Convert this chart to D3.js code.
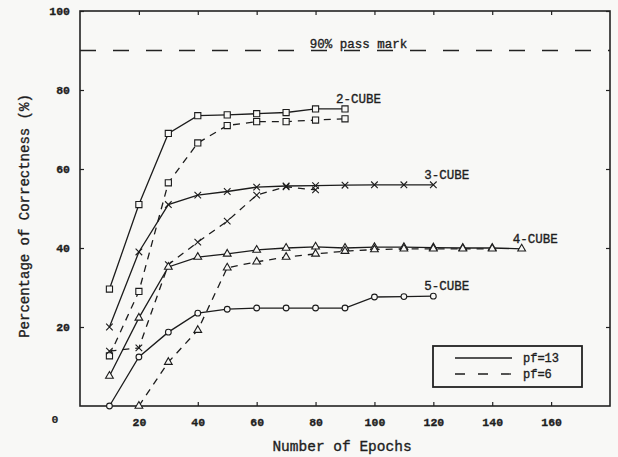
<!DOCTYPE html>
<html>
<head>
<meta charset="utf-8">
<script src="https://cdn.jsdelivr.net/npm/d3@7"></script>
<style>
  body { margin: 0; background: #f8f8f6; }
  text { font-family: "Liberation Mono", monospace; fill: #1e1e1e; stroke: #1e1e1e; stroke-width: 0.35; }
</style>
</head>
<body>
<div id="chart"></div>
<script>
// --------------------------------------
//  Data
// --------------------------------------

const epochs = [10, 20, 30, 40, 50, 60, 70, 80, 90, 100, 110, 120, 130, 140, 150];

const cube2Solid  = [29.6, 51, 69, 73.5, 73.7, 74, 74.3, 75.2, 75.2];
const cube2Dashed = [12.7, 29, 56.5, 66.6, 71, 72, 72, 72.4, 72.7];
const cube3Solid  = [20, 39, 51, 53.4, 54.3, 55.4, 55.7, 55.8, 55.9, 56, 56, 56];
const cube3Dashed = [13.9, 14.7, 35.8, 41.5, 46.8, 53.4, 55.5, 54.7];
const cube4Solid  = [7.6, 22.3, 35.2, 37.7, 38.5, 39.5, 40, 40.3, 40, 40.2, 40.2, 40.1, 40, 40, 39.8];
const cube4Dashed = [null, 0, 11.1, 19.2, 35, 36.5, 37.7, 38.5, 39.2, 39.6, 39.8, 39.8, 39.8, 39.8];
const cube5Solid  = [0, 12.4, 18.7, 23.5, 24.5, 24.8, 24.8, 24.8, 24.8, 27.6, 27.7, 27.8];

const xTicks = [20, 40, 60, 80, 100, 120, 140, 160];
const yTicks = [20, 40, 60, 80, 100];
const passMark = 90;

const series = [
  {values: cube2Solid,  symbol: d3.symbolSquare,   size: 38, dashed: false},
  {values: cube2Dashed, symbol: d3.symbolSquare,   size: 38, dashed: true},
  {values: cube3Solid,  symbol: d3.symbolTimes,    size: 30, dashed: false},
  {values: cube3Dashed, symbol: d3.symbolTimes,    size: 30, dashed: true},
  {values: cube4Solid,  symbol: d3.symbolTriangle, size: 26, dashed: false},
  {values: cube4Dashed, symbol: d3.symbolTriangle, size: 26, dashed: true},
  {values: cube5Solid,  symbol: d3.symbolCircle,   size: 26, dashed: false}
];

const curveLabels = [
  {text: "2-CUBE", epoch: 90,  value: 75.2},
  {text: "3-CUBE", epoch: 120, value: 56},
  {text: "4-CUBE", epoch: 150, value: 39.8},
  {text: "5-CUBE", epoch: 120, value: 27.8}
];

// --------------------------------------
//  Margin and canvas
// --------------------------------------

const width = 618;
const height = 457;
const margin = {top: 11, right: 8, bottom: 51, left: 80};
const innerwidth = width - margin.left - margin.right;
const innerheight = height - margin.top - margin.bottom;

const svg = d3.select("#chart")
  .append("svg")
    .attr("width", width)
    .attr("height", height);

const innerChart = svg.append("g")
    .attr("transform", `translate(${margin.left}, ${margin.top})`);

// --------------------------------------
//  Scales
// --------------------------------------

const x = d3.scaleLinear().domain([0, 180]).range([0, innerwidth]);
const y = d3.scaleLinear().domain([0, 100]).range([innerheight, 0]);

// --------------------------------------
//  Axes (ticks inward on all four sides)
// --------------------------------------

const axisStyle = g => {
  g.select(".domain").remove();
  g.selectAll(".tick line").attr("stroke", "#222").attr("stroke-width", 1.2);
  g.selectAll(".tick text").attr("font-size", 11.5).attr("font-weight", "bold").attr("fill", "#2a2a2a").attr("stroke-width", 0.1);
};

innerChart.append("g")
    .attr("transform", `translate(0, ${innerheight})`)
    .call(d3.axisBottom(x).tickValues(xTicks).tickSize(-4).tickPadding(12))
    .call(axisStyle);

innerChart.append("g")
    .call(d3.axisLeft(y).tickValues(yTicks).tickSize(-4).tickPadding(10))
    .call(axisStyle);

innerChart.append("g")
    .attr("transform", `translate(${innerwidth}, 0)`)
    .call(d3.axisRight(y).tickValues(yTicks).tickSize(-4).tickFormat(""))
    .call(axisStyle);

innerChart.append("g")
    .call(d3.axisTop(x).tickValues(xTicks).tickSize(-4).tickFormat(""))
    .call(axisStyle);

innerChart.append("rect")
    .attr("width", innerwidth)
    .attr("height", innerheight)
    .attr("fill", "none")
    .attr("stroke", "#222")
    .attr("stroke-width", 1.6);

// shared "0" in the corner
svg.append("text")
    .attr("x", 55).attr("y", 423)
    .attr("text-anchor", "middle")
    .attr("font-size", 11.5).attr("font-weight", "bold")
    .style("stroke-width", 0.1)
    .text("0");

svg.append("text")
    .attr("x", margin.left + x(90) - 3)
    .attr("y", 451)
    .attr("text-anchor", "middle")
    .attr("font-size", 14.5)
    .text("Number of Epochs");

svg.append("text")
    .attr("transform", `translate(29, 216) rotate(-90)`)
    .attr("text-anchor", "middle")
    .attr("font-size", 14)
    .text("Percentage of Correctness (%)");

// --------------------------------------
//  Pass mark
// --------------------------------------

innerChart.append("line")
    .attr("x1", 0).attr("x2", innerwidth)
    .attr("y1", y(passMark)).attr("y2", y(passMark))
    .attr("stroke", "#222")
    .attr("stroke-width", 1.4)
    .attr("stroke-dasharray", "16,17");

innerChart.append("text")
    .attr("x", x(78))
    .attr("y", y(passMark) - 3)
    .attr("font-size", 12.5)
    .text("90% pass mark");

// --------------------------------------
//  Data drawing
// --------------------------------------

const line = d3.line()
    .defined(d => d[1] != null)
    .x(d => x(d[0]))
    .y(d => y(d[1]));

series.forEach(s => {
  const pts = s.values.map((v, i) => [epochs[i], v]);

  innerChart.append("path")
      .datum(pts)
      .attr("fill", "none")
      .attr("stroke", "#1c1c1c")
      .attr("stroke-width", 1.3)
      .attr("stroke-dasharray", s.dashed ? "7,6" : null)
      .attr("d", line);

  innerChart.append("g")
    .selectAll("path")
    .data(pts.filter(d => d[1] != null))
    .join("path")
      .attr("transform", d => `translate(${x(d[0])}, ${y(d[1])})`)
      .attr("d", d3.symbol().type(s.symbol).size(s.size))
      .attr("fill", s.symbol === d3.symbolTimes ? "none" : "#f8f8f6")
      .attr("stroke", "#1c1c1c")
      .attr("stroke-width", 1.1);
});

innerChart.append("g")
  .selectAll("text")
  .data(curveLabels)
  .join("text")
    .attr("x", d => x(d.epoch) - 9)
    .attr("y", d => y(d.value) - 6)
    .attr("font-size", 12.5)
    .text(d => d.text);

// --------------------------------------
//  Legend
// --------------------------------------

const legend = svg.append("g")
    .attr("transform", "translate(433, 346)");

legend.append("rect")
    .attr("width", 149).attr("height", 41)
    .attr("fill", "none")
    .attr("stroke", "#222")
    .attr("stroke-width", 1.8);

[{label: "pf=13", dashed: false}, {label: "pf=6", dashed: true}].forEach((d, i) => {
  legend.append("line")
      .attr("x1", 22).attr("x2", 79)
      .attr("y1", 12 + i * 16).attr("y2", 12 + i * 16)
      .attr("stroke", "#1c1c1c")
      .attr("stroke-width", 1.3)
      .attr("stroke-dasharray", d.dashed ? "10,13" : null);
  legend.append("text")
      .attr("x", 90).attr("y", 16 + i * 16)
      .attr("font-size", 12)
      .text(d.label);
});
</script>
</body>
</html>
